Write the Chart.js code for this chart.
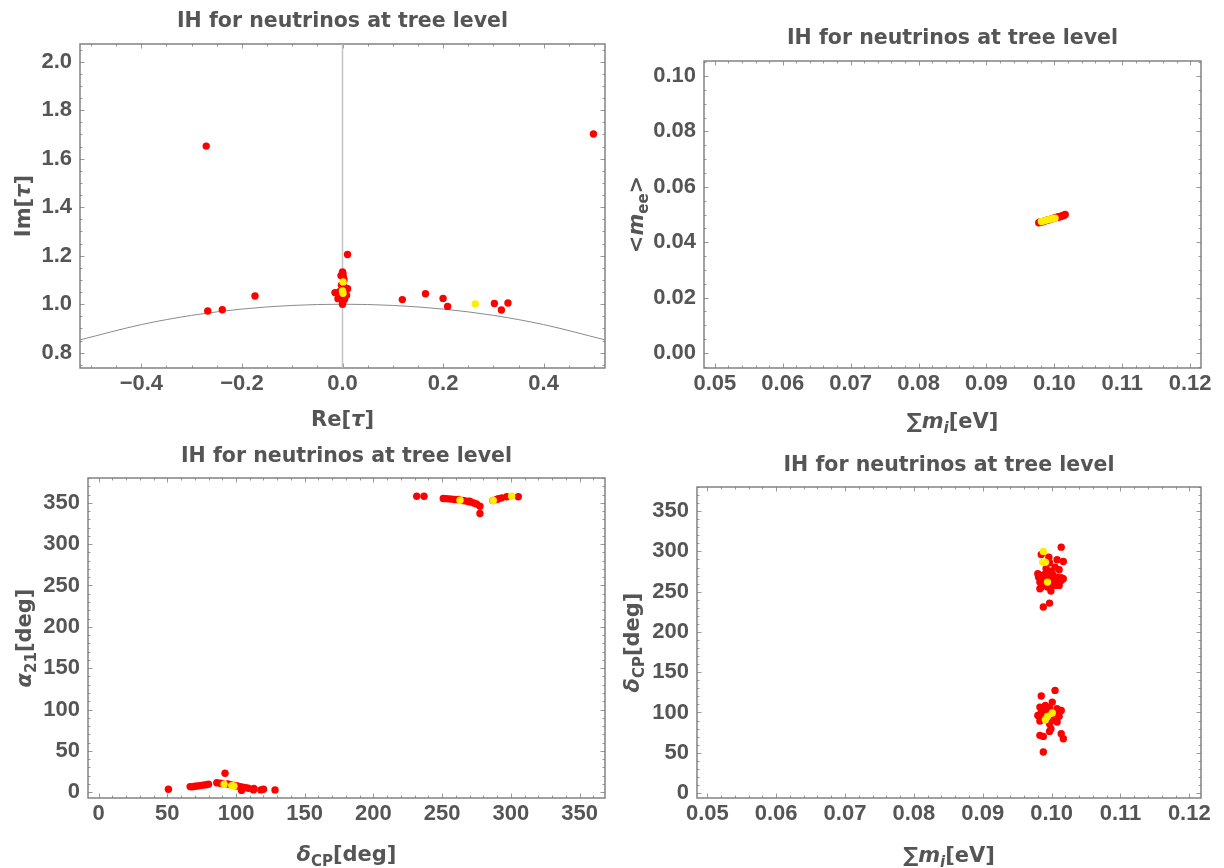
<!DOCTYPE html>
<html>
<head>
<meta charset="utf-8">
<script src="https://cdn.jsdelivr.net/npm/chart.js@4.4.0/dist/chart.umd.min.js"></script>
<style>
  body { margin: 0; background: #fff; }
  #wrap { position: relative; width: 1224px; height: 868px; }
  canvas { position: absolute; }
</style>
</head>
<body>
<div id="wrap">
  <canvas id="c1" width="612" height="434" style="left:0;top:0"></canvas>
  <canvas id="c2" width="612" height="434" style="left:612px;top:0"></canvas>
  <canvas id="c3" width="612" height="434" style="left:0;top:434px"></canvas>
  <canvas id="c4" width="612" height="434" style="left:612px;top:434px"></canvas>
</div>
<script>
// ---- Panel 1: Re[tau] vs Im[tau] ----
const reTauRed = [-0.271, 0.499, 0.010, -0.268, -0.239, -0.174, 0.119, 0.165, 0.200, 0.209, 0.302, 0.316, 0.329,
    -0.015, -0.009, -0.006, 0.000, 0.001, -0.003, 0.002, 0.003, -0.002, 0.010, 0.005, 0.001, 0.002, 0.004, 0.001, 0.000, 0.003, -0.001, 0.008, 0.000];
const imTauRed = [1.652, 1.702, 1.205, 0.972, 0.977, 1.034, 1.019, 1.043, 1.024, 0.991, 1.003, 0.976, 1.005,
    1.048, 1.023, 1.052, 1.133, 1.127, 1.118, 1.110, 1.100, 1.078, 1.064, 1.068, 1.060, 1.035, 1.020, 1.012, 1.003, 1.040, 1.030, 1.037, 1.000];
const reTauYellow = [0.264, 0.001, 0.000, 0.001];
const imTauYellow = [1.001, 1.092, 1.055, 1.045];
// |tau| = 1 arc and the Re = 0 axis
const arcRe = [-0.522, -0.4, -0.3, -0.2, -0.1, 0, 0.1, 0.2, 0.3, 0.4, 0.522];
const arcIm = [0.853, 0.916, 0.954, 0.980, 0.995, 1.0, 0.995, 0.980, 0.954, 0.916, 0.853];
const axisRe = [0, 0];
const axisIm = [0.737, 2.073];

// ---- Panel 2: sum m_i vs <m_ee> ----
const sumMRed2 = [0.0977, 0.0979, 0.0980, 0.0983, 0.0985, 0.0986, 0.0989, 0.0991, 0.0992, 0.0995, 0.0998, 0.1001,
    0.1003, 0.1004, 0.1006, 0.1007, 0.1009, 0.1010, 0.1012, 0.1013, 0.1014, 0.1015, 0.1016];
const meeRed = [0.0470, 0.0473, 0.0472, 0.0474, 0.0476, 0.0477, 0.0479, 0.0480, 0.0481, 0.0483, 0.0486, 0.0488,
    0.0489, 0.0490, 0.0491, 0.0492, 0.0493, 0.0494, 0.0495, 0.0496, 0.0497, 0.0498, 0.0500];
const sumMYellow2 = [0.0981, 0.0985, 0.0989, 0.0993, 0.0997, 0.1001];
const meeYellow = [0.0475, 0.0477, 0.0480, 0.0482, 0.0485, 0.0487];

// ---- Panel 3: delta_CP vs alpha_21 ----
const deltaRed3 = [50.8, 66.6, 68, 70, 72, 74, 76, 78, 80, 92, 86, 88.4, 90, 94, 96, 99, 101, 103, 105, 107, 109, 104, 112.7, 113, 118, 120, 128.4,
    231.5, 236.8, 250.8, 253, 255, 257, 259, 261, 262, 265, 267, 269, 270, 271, 273, 275, 277.5, 277.5, 287, 289.7, 291, 293.3, 297, 305.4];
const alphaRed = [3.6, 6.8, 6.5, 7.2, 7.6, 8.0, 8.6, 9.0, 9.7, 23, 11.5, 10.9, 10.5, 10, 9, 8.2, 7.6, 6.8, 6.2, 5.6, 4.8, 2.2, 2.8, 4.4, 2.8, 3.6, 2.8,
    358, 358, 355.2, 355, 354.8, 354.5, 354, 353.8, 354.2, 352.8, 352.3, 351.5, 351.8, 350.8, 349.8, 348.5, 345.9, 337, 352.8, 354, 355, 356, 357.3, 357.3];
const deltaYellow3 = [91.3, 96.9, 98.5, 263, 287.2, 300.6];
const alphaYellow = [9.7, 8.0, 7.6, 353.2, 352.8, 358];

// ---- Panel 4: sum m_i vs delta_CP ----
const sumMRed4 = [0.1014, 0.0985, 0.0996, 0.1008, 0.1017, 0.0997, 0.1011, 0.0999, 0.0980, 0.0985, 0.0991, 0.0997, 0.1002, 0.1008,
    0.1014, 0.1017, 0.0983, 0.0988, 0.0999, 0.1005, 0.0985, 0.1008, 0.1014, 0.0983, 0.0999, 0.0997, 0.0988, 0.0990, 0.1004, 0.0994,
    0.0981, 0.1011, 0.1001, 0.0992, 0.1005,
    0.1005, 0.0985, 0.1001, 0.0983, 0.0991, 0.0997, 0.1008, 0.1014, 0.0985, 0.0980, 0.1005, 0.1011, 0.0985, 0.1002, 0.0983, 0.1008,
    0.0997, 0.0990, 0.0999, 0.0997, 0.0983, 0.0988, 0.1014, 0.1017, 0.0988, 0.0992];
const deltaRed4 = [305.3, 296.2, 292.9, 289.6, 287.5, 285.9, 277.2, 275.5, 272.2, 270.2, 272.2, 268.1, 270.2, 268.1,
    267.3, 266.0, 261.9, 259.8, 259.0, 257.8, 255.7, 261.9, 264.0, 253.6, 250.7, 235.8, 230.9, 266.0, 264.0, 255.7,
    268.1, 257.8, 272.2, 278.4, 280.5,
    127.4, 120.4, 112.9, 106.7, 108.8, 105.9, 104.7, 102.6, 100.5, 96.4, 98.5, 95.2, 92.3, 90.2, 89.4, 88.1,
    86.1, 96.4, 79.9, 76.5, 71.6, 70.3, 73.6, 67.4, 50.9, 103.4];
const sumMYellow4 = [0.0988, 0.0987, 0.0991, 0.0994, 0.1001, 0.0994, 0.0991];
const deltaYellow4 = [300.0, 286.7, 286.7, 261.9, 99.3, 95.2, 91.0];

// ---- tick labels ----
const reTicks = [-0.4, -0.2, 0, 0.2, 0.4];
const reLabels = ['\u22120.4', '\u22120.2', '0.0', '0.2', '0.4'];
const imTicks = [0.8, 1.0, 1.2, 1.4, 1.6, 1.8, 2.0];
const imLabels = ['0.8', '1.0', '1.2', '1.4', '1.6', '1.8', '2.0'];
const sumTicks = [0.05, 0.06, 0.07, 0.08, 0.09, 0.10, 0.11, 0.12];
const sumLabels = ['0.05', '0.06', '0.07', '0.08', '0.09', '0.10', '0.11', '0.12'];
const meeTicks = [0, 0.02, 0.04, 0.06, 0.08, 0.10];
const meeLabels = ['0.00', '0.02', '0.04', '0.06', '0.08', '0.10'];
const degTicks = [0, 50, 100, 150, 200, 250, 300, 350];
const degLabels = ['0', '50', '100', '150', '200', '250', '300', '350'];

const TITLE = 'IH for neutrinos at tree level';
const TEXT = '#555';
const FONT = '"DejaVu Sans", sans-serif';
const TICK_FONT = '"Liberation Sans", Arial, sans-serif';

function toPoints(xs, ys) {
    return xs.map((x, i) => ({ x: x, y: ys[i] }));
}

// minor tick positions between the majors
function minorList(min, max, step, majors) {
    const out = [];
    for (let v = Math.ceil(min / step) * step; v <= max; v += step) {
        if (!majors.some(m => Math.abs(m - v) < step / 10)) out.push(v);
    }
    return out;
}

// draw a label made of pieces (italic / subscript)
function drawRich(ctx, segs, x, y, size, rotate) {
    const fontOf = s => (s.it ? 'italic ' : '') + 'bold ' + (s.sub ? Math.round(size * 0.7) : size) + 'px ' + FONT;
    let total = 0;
    segs.forEach(s => { ctx.font = fontOf(s); total += ctx.measureText(s.t).width; });
    ctx.save();
    ctx.translate(x, y);
    if (rotate) ctx.rotate(-Math.PI / 2);
    ctx.fillStyle = TEXT;
    ctx.textBaseline = 'alphabetic';
    let cx = -total / 2;
    segs.forEach(s => {
        ctx.font = fontOf(s);
        ctx.fillText(s.t, cx, size * 0.36 + (s.sub ? size * 0.28 : 0));
        cx += ctx.measureText(s.t).width;
    });
    ctx.restore();
}

// frame with inward ticks on all four sides, plus title and axis labels
const framePlugin = {
    id: 'frame',
    beforeDatasetsDraw(chart, args, o) {
        const { ctx, chartArea: a, scales } = chart;
        ctx.save();
        ctx.strokeStyle = '#999';
        ctx.lineWidth = 1;
        const tickX = (vals, len) => vals.forEach(v => {
            const p = Math.round(scales.x.getPixelForValue(v)) + 0.5;
            ctx.beginPath();
            ctx.moveTo(p, a.bottom); ctx.lineTo(p, a.bottom - len);
            ctx.moveTo(p, a.top); ctx.lineTo(p, a.top + len);
            ctx.stroke();
        });
        const tickY = (vals, len) => vals.forEach(v => {
            const p = Math.round(scales.y.getPixelForValue(v)) + 0.5;
            ctx.beginPath();
            ctx.moveTo(a.left, p); ctx.lineTo(a.left + len, p);
            ctx.moveTo(a.right, p); ctx.lineTo(a.right - len, p);
            ctx.stroke();
        });
        tickX(o.xTicks, 4.5);
        tickY(o.yTicks, 4.5);
        tickX(minorList(o.xMin, o.xMax, o.xMinor, o.xTicks), 2.5);
        tickY(minorList(o.yMin, o.yMax, o.yMinor, o.yTicks), 2.5);
        ctx.strokeStyle = '#7a7a7a';
        ctx.lineWidth = 1.4;
        ctx.strokeRect(a.left, a.top, a.right - a.left, a.bottom - a.top);
        ctx.restore();
    },
    afterDraw(chart, args, o) {
        const { ctx, chartArea: a } = chart;
        const mid = (a.left + a.right) / 2;
        drawRich(ctx, [{ t: TITLE }], mid, o.titleY, 20.5);
        drawRich(ctx, o.xLabel, mid, o.xLabelY, 21, false);
        drawRich(ctx, o.yLabel, o.yLabelX, (a.top + a.bottom) / 2, 21, true);
    }
};

function makeChart(id, box, ranges, ticks, datasets, text) {
    const ctx = document.getElementById(id).getContext('2d');
    const tickFont = { family: TICK_FONT, size: 22, weight: 'bold' };
    return new Chart(ctx, {
        type: 'scatter',
        data: { datasets: datasets },
        options: {
            responsive: false,
            animation: false,
            events: [],
            layout: { padding: { left: 0, top: box.top, right: 612 - box.right, bottom: 0 } },
            plugins: {
                legend: { display: false },
                tooltip: { enabled: false },
                frame: Object.assign({
                    xTicks: ticks.x, yTicks: ticks.y,
                    xMin: ranges.x[0], xMax: ranges.x[1], yMin: ranges.y[0], yMax: ranges.y[1],
                    xMinor: ticks.xMinor, yMinor: ticks.yMinor
                }, text)
            },
            scales: {
                x: {
                    type: 'linear', min: ranges.x[0], max: ranges.x[1],
                    grid: { display: false, drawTicks: false }, border: { display: false },
                    afterFit: s => { s.height = 434 - box.bottom; },
                    afterBuildTicks: s => { s.ticks = ticks.x.map(v => ({ value: v })); },
                    ticks: { color: TEXT, font: tickFont, padding: 3, autoSkip: false, maxRotation: 0,
                        callback: (v, i) => ticks.xLabels[i] }
                },
                y: {
                    type: 'linear', min: ranges.y[0], max: ranges.y[1],
                    grid: { display: false, drawTicks: false }, border: { display: false },
                    afterFit: s => { s.width = box.left; },
                    afterBuildTicks: s => { s.ticks = ticks.y.map(v => ({ value: v })); },
                    ticks: { color: TEXT, font: tickFont, padding: 8, autoSkip: false,
                        callback: (v, i) => ticks.yLabels[i] }
                }
            }
        },
        plugins: [framePlugin]
    });
}

function dots(xs, ys, color) {
    return { data: toPoints(xs, ys), backgroundColor: color, borderWidth: 0, pointRadius: 3.7, pointHoverRadius: 3.7 };
}
const RED = '#ff0000';
const YELLOW = '#ffee00';

// Panel 1
makeChart('c1', { left: 80, top: 44, right: 605, bottom: 368 },
    { x: [-0.522, 0.522], y: [0.737, 2.073] },
    { x: reTicks, xLabels: reLabels, y: imTicks, yLabels: imLabels, xMinor: 0.05, yMinor: 0.05 },
    [
        dots(reTauYellow, imTauYellow, YELLOW),
        dots(reTauRed, imTauRed, RED),
        { data: toPoints(arcRe, arcIm), showLine: true, pointRadius: 0, borderColor: '#8a8a8a', borderWidth: 1,
          cubicInterpolationMode: 'monotone' },
        { data: toPoints(axisRe, axisIm), showLine: true, pointRadius: 0, borderColor: '#c4c4c4', borderWidth: 1.5 }
    ],
    { titleY: 20, xLabelY: 418, yLabelX: 22,
      xLabel: [{ t: 'Re[' }, { t: '\u03c4', it: true }, { t: ']' }],
      yLabel: [{ t: 'Im[' }, { t: '\u03c4', it: true }, { t: ']' }] });

// Panel 2
makeChart('c2', { left: 92, top: 61, right: 589, bottom: 368 },
    { x: [0.0484, 0.1216], y: [-0.0054, 0.1054] },
    { x: sumTicks, xLabels: sumLabels, y: meeTicks, yLabels: meeLabels, xMinor: 0.002, yMinor: 0.005 },
    [dots(sumMYellow2, meeYellow, YELLOW), dots(sumMRed2, meeRed, RED)],
    { titleY: 37, xLabelY: 420, yLabelX: 23,
      xLabel: [{ t: '\u2211' }, { t: 'm', it: true }, { t: 'i', it: true, sub: true }, { t: '[eV]' }],
      yLabel: [{ t: '<' }, { t: 'm', it: true }, { t: 'ee', sub: true }, { t: '>' }] });

// Panel 3
makeChart('c3', { left: 88, top: 44, right: 605, bottom: 364 },
    { x: [-7.7, 368.5], y: [-7, 380] },
    { x: degTicks, xLabels: degLabels, y: degTicks, yLabels: degLabels, xMinor: 10, yMinor: 10 },
    [dots(deltaYellow3, alphaYellow, YELLOW), dots(deltaRed3, alphaRed, RED)],
    { titleY: 21, xLabelY: 419, yLabelX: 23,
      xLabel: [{ t: '\u03b4', it: true }, { t: 'CP', sub: true }, { t: '[deg]' }],
      yLabel: [{ t: '\u03b1', it: true }, { t: '21', sub: true }, { t: '[deg]' }] });

// Panel 4
makeChart('c4', { left: 85, top: 53, right: 589, bottom: 364 },
    { x: [0.0485, 0.1217], y: [-6.2, 380] },
    { x: sumTicks, xLabels: sumLabels, y: degTicks, yLabels: degLabels, xMinor: 0.002, yMinor: 10 },
    [dots(sumMYellow4, deltaYellow4, YELLOW), dots(sumMRed4, deltaRed4, RED)],
    { titleY: 30, xLabelY: 420, yLabelX: 19,
      xLabel: [{ t: '\u2211' }, { t: 'm', it: true }, { t: 'i', it: true, sub: true }, { t: '[eV]' }],
      yLabel: [{ t: '\u03b4', it: true }, { t: 'CP', sub: true }, { t: '[deg]' }] });
</script>
</body>
</html>
